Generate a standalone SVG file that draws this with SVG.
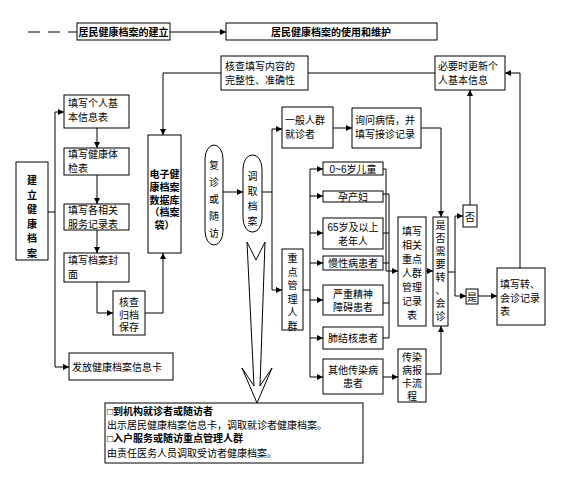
<svg xmlns="http://www.w3.org/2000/svg" width="570" height="477" viewBox="0 0 570 477">
<style>
.b{fill:#fff;stroke:#000;stroke-width:1}
.c{fill:none;stroke:#000;stroke-width:1}
.t{font-family:"Liberation Sans","Noto Sans CJK SC",sans-serif;font-size:10px;fill:#000}
.bd{font-weight:bold}
.m{text-anchor:middle}
</style>
<defs>
<marker id="a" viewBox="0 0 10 10" refX="10" refY="5" markerWidth="7" markerHeight="6" orient="auto" markerUnits="userSpaceOnUse">
<path d="M0,0 L10,5 L0,10 z" fill="#000"/>
</marker>
</defs>
<rect width="570" height="477" fill="#fff"/>

<g id="connectors">
<line class="c" x1="28" y1="32" x2="77" y2="32" stroke-dasharray="12 8"/>
<line class="c" x1="170" y1="32" x2="226" y2="32" marker-end="url(#a)"/>
<polyline class="c" points="48,212 55,212"/>
<line class="c" x1="55" y1="112" x2="55" y2="367"/>
<line class="c" x1="55" y1="112" x2="64" y2="112" marker-end="url(#a)"/>
<line class="c" x1="55" y1="367" x2="69" y2="367" marker-end="url(#a)"/>
<line class="c" x1="97" y1="128" x2="97" y2="148" marker-end="url(#a)"/>
<line class="c" x1="97" y1="175" x2="97" y2="204" marker-end="url(#a)"/>
<line class="c" x1="97" y1="230" x2="97" y2="253" marker-end="url(#a)"/>
<polyline class="c" points="97,282 97,313 113,313" marker-end="url(#a)"/>
<polyline class="c" points="145,313 163,313 163,253" marker-end="url(#a)"/>
<polyline class="c" points="221,73 163,73 163,135" marker-end="url(#a)"/>
<line class="c" x1="308" y1="73" x2="435" y2="73"/>
<polyline class="c" points="520,268 520,73 505,73" marker-end="url(#a)"/>
<line class="c" x1="470" y1="205" x2="470" y2="90" marker-end="url(#a)"/>
<line class="c" x1="223" y1="192" x2="243" y2="192" marker-end="url(#a)"/>
<polyline class="c" points="262,192 272,192"/>
<line class="c" x1="272" y1="129" x2="272" y2="290"/>
<line class="c" x1="272" y1="129" x2="282" y2="129" marker-end="url(#a)"/>
<line class="c" x1="272" y1="290" x2="282" y2="290" marker-end="url(#a)"/>
<line class="c" x1="333" y1="128" x2="352" y2="128" marker-end="url(#a)"/>
<polyline class="c" points="421,128 441,128 441,217" marker-end="url(#a)"/>
<polyline class="c" points="303,290 310,290"/>
<line class="c" x1="310" y1="169" x2="310" y2="377"/>
<line class="c" x1="310" y1="169" x2="323" y2="169" marker-end="url(#a)"/>
<line class="c" x1="310" y1="196" x2="323" y2="196" marker-end="url(#a)"/>
<line class="c" x1="310" y1="233" x2="323" y2="233" marker-end="url(#a)"/>
<line class="c" x1="310" y1="263" x2="323" y2="263" marker-end="url(#a)"/>
<line class="c" x1="310" y1="300" x2="323" y2="300" marker-end="url(#a)"/>
<line class="c" x1="310" y1="338" x2="323" y2="338" marker-end="url(#a)"/>
<line class="c" x1="310" y1="377" x2="323" y2="377" marker-end="url(#a)"/>
<polyline class="c" points="383,169 386,169 386,271"/>
<polyline class="c" points="383,194 389,194 389,338 383,338"/>
<line class="c" x1="383" y1="233" x2="389" y2="233"/>
<line class="c" x1="383" y1="263" x2="389" y2="263"/>
<line class="c" x1="383" y1="303" x2="389" y2="303"/>
<line class="c" x1="386" y1="271" x2="398" y2="271" marker-end="url(#a)"/>
<line class="c" x1="383" y1="377" x2="398" y2="377" marker-end="url(#a)"/>
<line class="c" x1="426" y1="271" x2="433" y2="271" marker-end="url(#a)"/>
<polyline class="c" points="448,272 455,272"/>
<line class="c" x1="455" y1="216" x2="455" y2="296"/>
<line class="c" x1="455" y1="216" x2="463" y2="216" marker-end="url(#a)"/>
<line class="c" x1="455" y1="296" x2="466" y2="296" marker-end="url(#a)"/>
<line class="c" x1="478" y1="296" x2="497" y2="296" marker-end="url(#a)"/>
<polyline class="c" points="426,374 441,374 441,326" marker-end="url(#a)"/>
<polygon class="b" points="247,242 256,260 265,242 260,386 272,368 257,403 242,368 254,386"/>
</g>

<g id="title1"><rect class="b" x="77" y="23" width="93" height="17"/><text class="t bd m" x="123.5" y="35.5" font-size="9.5">居民健康档案的建立</text></g>
<g id="title2"><rect class="b" x="226" y="23" width="211" height="17"/><text class="t bd m" x="331" y="35.5" font-size="9.5">居民健康档案的使用和维护</text></g>

<g id="n-jianli"><rect class="b" x="16" y="162" width="32" height="98"/>
<text class="t bd m" x="32" font-size="11"><tspan x="32" y="184">建</tspan><tspan x="32" y="198.5">立</tspan><tspan x="32" y="213">健</tspan><tspan x="32" y="227.5">康</tspan><tspan x="32" y="242">档</tspan><tspan x="32" y="256.5">案</tspan></text></g>

<g id="n-geren"><rect class="b" x="64" y="95" width="65" height="33"/><text class="t"><tspan x="68" y="107">填写个人基</tspan><tspan x="68" y="121">本信息表</tspan></text></g>
<g id="n-tijian"><rect class="b" x="64" y="148" width="65" height="27"/><text class="t"><tspan x="68" y="158">填写健康体</tspan><tspan x="68" y="172">检表</tspan></text></g>
<g id="n-fuwu"><rect class="b" x="64" y="204" width="65" height="26"/><text class="t"><tspan x="68" y="214">填写各相关</tspan><tspan x="68" y="228">服务记录表</tspan></text></g>
<g id="n-fengmian"><rect class="b" x="64" y="253" width="65" height="29"/><text class="t"><tspan x="68" y="264">填写档案封</tspan><tspan x="68" y="278">面</tspan></text></g>
<g id="n-hecha"><rect class="b" x="113" y="291" width="32" height="44"/><text class="t m"><tspan x="129" y="306">核查</tspan><tspan x="129" y="318.5">归档</tspan><tspan x="129" y="331">保存</tspan></text></g>
<g id="n-fafang"><rect class="b" x="69" y="353" width="104" height="27"/><text class="t" x="72" y="371">发放健康档案信息卡</text></g>

<g id="n-dianzi"><rect class="b" x="148" y="135" width="33" height="118"/><text class="t bd m" font-size="10.5"><tspan x="164.5" y="178">电子健</tspan><tspan x="164.5" y="191">康档案</tspan><tspan x="164.5" y="203.5">数据库</tspan><tspan x="164.5" y="216">（档案</tspan><tspan x="164.5" y="228.5">袋）</tspan></text></g>

<g id="n-hechatx"><rect class="b" x="221" y="56" width="87" height="34"/><text class="t"><tspan x="225" y="70">核查填写内容的</tspan><tspan x="225" y="84">完整性、准确性</tspan></text></g>
<g id="n-gengxin"><rect class="b" x="435" y="56" width="70" height="34"/><text class="t"><tspan x="438" y="70">必要时更新个</tspan><tspan x="438" y="84">人基本信息</tspan></text></g>

<g id="n-fuzhen"><rect class="b" x="205" y="145" width="18" height="100" rx="9" ry="14"/><text class="t m" font-size="12"><tspan x="214" y="169">复</tspan><tspan x="214" y="186">诊</tspan><tspan x="214" y="203">或</tspan><tspan x="214" y="220">随</tspan><tspan x="214" y="237">访</tspan></text></g>
<g id="n-diaoqu"><rect class="b" x="243" y="155" width="19" height="77" rx="9" ry="14"/><text class="t m"><tspan x="252.5" y="180">调</tspan><tspan x="252.5" y="195">取</tspan><tspan x="252.5" y="210">档</tspan><tspan x="252.5" y="225">案</tspan></text></g>

<g id="n-yiban"><rect class="b" x="282" y="107" width="51" height="41"/><text class="t"><tspan x="285" y="124">一般人群</tspan><tspan x="285" y="138">就诊者</tspan></text></g>
<g id="n-xunwen"><rect class="b" x="352" y="108" width="69" height="40"/><text class="t"><tspan x="355" y="124">询问病情，并</tspan><tspan x="355" y="138">填写接诊记录</tspan></text></g>

<g id="n-zhongdian"><rect class="b" x="282" y="249" width="21" height="81"/><text class="t m"><tspan x="292.5" y="262">重</tspan><tspan x="292.5" y="275.5">点</tspan><tspan x="292.5" y="289">管</tspan><tspan x="292.5" y="302.5">理</tspan><tspan x="292.5" y="316">人</tspan><tspan x="292.5" y="329.5">群</tspan></text></g>

<g id="n-ertong"><rect class="b" x="323" y="162" width="60" height="13"/><text class="t m" x="353" y="172.5" font-size="9">0~6岁儿童</text></g>
<g id="n-yunchan"><rect class="b" x="323" y="191" width="60" height="11"/><text class="t m" x="353" y="200.5" font-size="9">孕产妇</text></g>
<g id="n-laonian"><rect class="b" x="323" y="218" width="60" height="31"/><text class="t m"><tspan x="353" y="231">65岁及以上</tspan><tspan x="353" y="245">老年人</tspan></text></g>
<g id="n-manxing"><rect class="b" x="323" y="256" width="60" height="14"/><text class="t m" x="353" y="267">慢性病患者</text></g>
<g id="n-jingshen"><rect class="b" x="323" y="285" width="60" height="30"/><text class="t m"><tspan x="353" y="298">严重精神</tspan><tspan x="353" y="311">障碍患者</tspan></text></g>
<g id="n-feijiehe"><rect class="b" x="323" y="327" width="60" height="22"/><text class="t m" x="353" y="342">肺结核患者</text></g>
<g id="n-qita"><rect class="b" x="323" y="359" width="60" height="35"/><text class="t m"><tspan x="353" y="374">其他传染病</tspan><tspan x="353" y="387">患者</tspan></text></g>

<g id="n-tianxie"><rect class="b" x="398" y="217" width="28" height="109"/><text class="t m"><tspan x="412" y="235">填写</tspan><tspan x="412" y="249">相关</tspan><tspan x="412" y="263">重点</tspan><tspan x="412" y="277">人群</tspan><tspan x="412" y="291">管理</tspan><tspan x="412" y="305">记录</tspan><tspan x="412" y="319">表</tspan></text></g>
<g id="n-chuanran"><rect class="b" x="398" y="349" width="28" height="53"/><text class="t m"><tspan x="412" y="361">传染</tspan><tspan x="412" y="374">病报</tspan><tspan x="412" y="387">卡流</tspan><tspan x="412" y="400">程</tspan></text></g>

<g id="n-shifou"><rect class="b" x="433" y="217" width="15" height="109"/><text class="t m"><tspan x="440.5" y="229">是</tspan><tspan x="440.5" y="242">否</tspan><tspan x="440.5" y="255">需</tspan><tspan x="440.5" y="268">要</tspan><tspan x="440.5" y="281">转</tspan><tspan x="440.5" y="294">、</tspan><tspan x="440.5" y="307">会</tspan><tspan x="440.5" y="320">诊</tspan></text></g>
<g id="n-fou"><rect class="b" x="463" y="205" width="14" height="22"/><text class="t m" x="470" y="220.5" font-size="11">否</text></g>
<g id="n-shi"><rect class="b" x="466" y="289" width="12" height="15"/><text class="t m" x="472" y="300.5">是</text></g>
<g id="n-zhuanzhen"><rect class="b" x="497" y="268" width="48" height="57"/><text class="t"><tspan x="500" y="288">填写转、</tspan><tspan x="500" y="302">会诊记录</tspan><tspan x="500" y="315">表</tspan></text></g>

<g id="n-note"><rect class="b" x="105" y="403" width="258" height="60"/><text class="t"><tspan class="bd" x="107" y="415">□到机构就诊者或随访者</tspan><tspan x="107" y="429">出示居民健康档案信息卡，调取就诊者健康档案。</tspan><tspan class="bd" x="107" y="442">□入户服务或随访重点管理人群</tspan><tspan x="107" y="457">由责任医务人员调取受访者健康档案。</tspan></text></g>
</svg>
